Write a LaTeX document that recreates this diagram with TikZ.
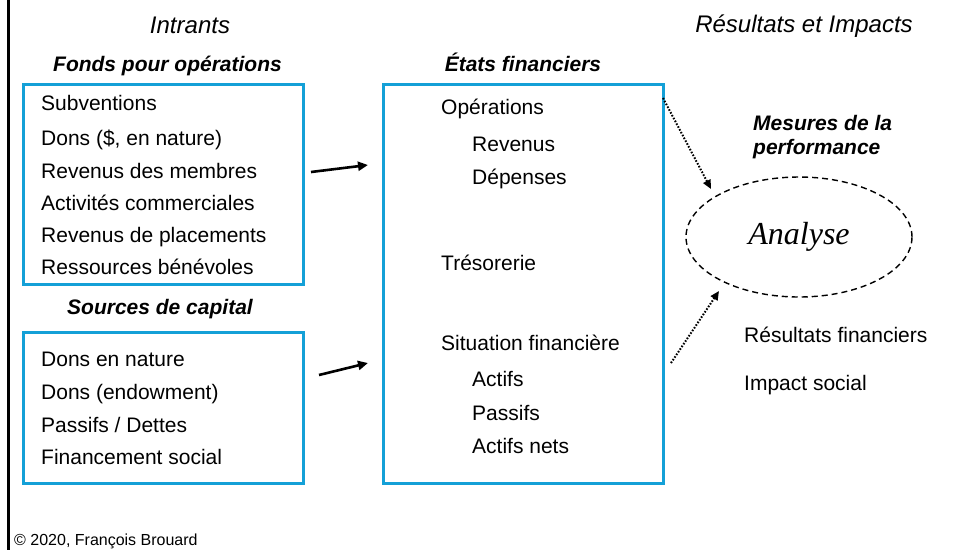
\documentclass[tikz,border=0pt]{standalone}
\usepackage{fontspec}
\setmainfont{Liberation Sans}
\newfontfamily\serifit{Liberation Serif}
\usetikzlibrary{arrows.meta,shapes.geometric}
\definecolor{boxblue}{RGB}{20,160,215}
\begin{document}
\begin{tikzpicture}[x=1pt,y=-1pt,
  bx/.style={draw=boxblue,line width=3pt,inner sep=0pt},
  item/.style={anchor=base west,inner sep=0pt,font=\fontsize{21}{25}\selectfont},
  head/.style={anchor=base,inner sep=0pt,font=\fontsize{21}{25}\selectfont\bfseries\itshape},
  headl/.style={anchor=base west,inner sep=0pt,font=\fontsize{21}{25}\selectfont\bfseries\itshape},
  ttl/.style={anchor=base,inner sep=0pt,font=\fontsize{24}{28}\selectfont\itshape},
  solidarr/.style={line width=2.6pt,-{Triangle[length=10pt,width=9pt]}},
  dotarr/.style={line width=2pt,dash pattern=on 1.6pt off 1.6pt,-{Triangle[length=9pt,width=8pt]}}]
\useasboundingbox (0,0) rectangle (959,550);
\fill[white] (0,0) rectangle (959,550);
% left frame line
\coordinate (ltop) at (8.5,0);
\coordinate (lbot) at (8.5,550);
\draw[line width=3pt] (ltop) -- (lbot);

% titles
\node[ttl] (tin) at (190,33) {Intrants};
\node[ttl] (tout) at (804,32) {Résultats et Impacts};
\node[head] (hfonds) at (167.5,71) {Fonds pour opérations};
\node[head] (hetats) at (523,71) {États financiers};
\node[head] (hsrc) at (160,314) {Sources de capital};
\node[headl] (hmes1) at (753,130) {Mesures de la};
\node[headl] (hmes2) at (753,154) {performance};

% boxes
\node[bx,minimum width=280pt,minimum height=200pt] (b1) at (163,184) {};
\node[bx,minimum width=280pt,minimum height=151pt] (b2) at (163,407.5) {};
\node[bx,minimum width=280pt,minimum height=399pt] (b3) at (523,283.5) {};

% box 1 items
\node[item] (i11) at (41,110) {Subventions};
\node[item] (i12) at (41,145) {Dons (\$, en nature)};
\node[item] (i13) at (41,178) {Revenus des membres};
\node[item] (i14) at (41,210) {Activités commerciales};
\node[item] (i15) at (41,242) {Revenus de placements};
\node[item] (i16) at (41,274) {Ressources bénévoles};

% box 2 items
\node[item] (i21) at (41,366) {Dons en nature};
\node[item] (i22) at (41,399) {Dons (endowment)};
\node[item] (i23) at (41,432) {Passifs / Dettes};
\node[item] (i24) at (41,464) {Financement social};

% box 3 items
\node[item] (i31) at (441,114) {Opérations};
\node[item] (i32) at (472,151) {Revenus};
\node[item] (i33) at (472,184) {Dépenses};
\node[item] (i34) at (441,270) {Trésorerie};
\node[item] (i35) at (441,350) {Situation financière};
\node[item] (i36) at (472,386) {Actifs};
\node[item] (i37) at (472,420) {Passifs};
\node[item] (i38) at (472,453) {Actifs nets};

% right items
\node[item] (r1) at (744,342) {Résultats financiers};
\node[item] (r2) at (744,390) {Impact social};

% ellipse
\node[ellipse,draw,dash pattern=on 6pt off 4pt,line width=1.4pt,
      minimum width=226pt,minimum height=120pt,inner sep=0pt,
      font=\fontsize{32}{36}\selectfont\serifit\itshape] (ana) at (799,237) {Analyse};

% solid arrows
\coordinate (a1s) at (311,172);
\coordinate (a1e) at (368,165);
\coordinate (a2s) at (319,375);
\coordinate (a2e) at (368,363);
\draw[solidarr] (a1s) -- (a1e);
\draw[solidarr] (a2s) -- (a2e);

% dotted arrows
\coordinate (d1s) at (663,98);
\coordinate (d1e) at (711,189);
\coordinate (d2s) at (671,363);
\coordinate (d2e) at (719,291);
\draw[dotarr] (d1s) -- (d1e);
\draw[dotarr] (d2s) -- (d2e);

% copyright
\node[anchor=base west,inner sep=0pt,font=\fontsize{16}{19}\selectfont] (copy) at (14,545) {© 2020, François Brouard};
\end{tikzpicture}
\end{document}
